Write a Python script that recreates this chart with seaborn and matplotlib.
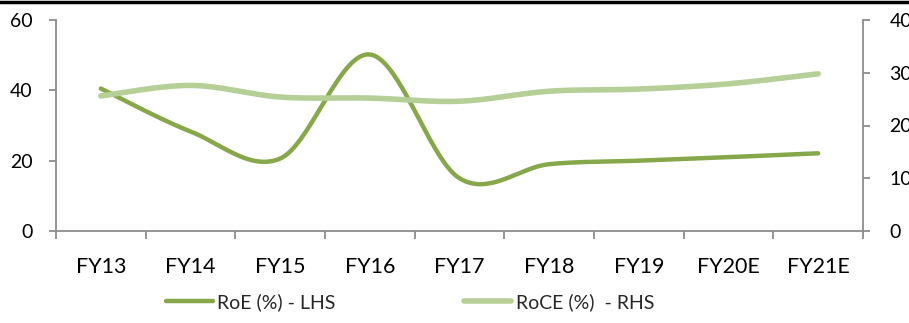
import numpy as np
import pandas as pd
import seaborn as sns
import matplotlib
matplotlib.use("Agg")
import matplotlib.pyplot as plt
from matplotlib.lines import Line2D

years = ["FY13", "FY14", "FY15", "FY16", "FY17", "FY18", "FY19", "FY20E", "FY21E"]
roe = [40.5, 28.3, 20.6, 50.2, 15.0, 19.0, 20.0, 21.0, 22.1]
roce = [25.6, 27.6, 25.4, 25.2, 24.6, 26.5, 26.9, 27.9, 29.8]
left_ticks = [0, 20, 40, 60]
right_ticks = [0, 10, 20, 30, 40]

DARK = "#86A84A"
LIGHT = "#B5CF96"


def smooth(xs, ys, n=40):
    """Catmull-Rom style smoothing through every point (Bezier with 1/6 tangents)."""
    xs = np.asarray(xs, float)
    ys = np.asarray(ys, float)
    P = np.column_stack([xs, ys])
    Pp = np.vstack([P[0], P, P[-1]])
    out = []
    t = np.linspace(0, 1, n)[:, None]
    for i in range(len(P) - 1):
        p0, p1, p2, p3 = Pp[i], Pp[i + 1], Pp[i + 2], Pp[i + 3]
        c1 = p1 + (p2 - p0) / 6
        c2 = p2 - (p3 - p1) / 6
        seg = ((1 - t) ** 3) * p1 + 3 * ((1 - t) ** 2) * t * c1 + 3 * (1 - t) * t ** 2 * c2 + t ** 3 * p2
        out.append(seg if i == 0 else seg[1:])
    out = np.vstack(out)
    return out[:, 0], out[:, 1]


sns.set_theme(style="white")
plt.rcParams["font.family"] = ["Lato", "DejaVu Sans"]

fig = plt.figure(figsize=(9.09, 3.23), dpi=100)
ax = fig.add_axes([56 / 909, 92 / 323, (863 - 56) / 909, (231 - 20) / 323])
ax2 = ax.twinx()

pos = np.arange(len(years))
sx, sy = smooth(pos, roe)
sns.lineplot(x=sx, y=sy, ax=ax, color=DARK, lw=3.2, sort=False,
             solid_capstyle="round", label="RoE (%) - LHS", legend=False)
rx, ry = smooth(pos, roce)
sns.lineplot(x=rx, y=ry, ax=ax2, color=LIGHT, lw=4.0, sort=False,
             solid_capstyle="round", label="RoCE (%)  - RHS", legend=False)

ax.set_xlim(-0.5, len(years) - 0.5)
ax.set_ylim(0, 60)
ax2.set_ylim(0, 40)
ax.set_yticks(left_ticks)
ax2.set_yticks(right_ticks)
ax.set_xticks(pos)
ax.set_xticklabels(years)
ax.set_xticks(np.arange(len(years) + 1) - 0.5, minor=True)

spine_c = "#8C8C8C"
for a in (ax, ax2):
    for s in a.spines.values():
        s.set_visible(False)
    a.grid(False)
ax.spines["left"].set_visible(True)
ax.spines["bottom"].set_visible(True)
ax2.spines["right"].set_visible(True)
for s in (ax.spines["left"], ax.spines["bottom"], ax2.spines["right"]):
    s.set_color(spine_c)
    s.set_linewidth(1.3)

ax.tick_params(axis="y", which="major", direction="out", length=5, width=1.3,
               color=spine_c, pad=12, labelsize=14, labelcolor="black", left=True)
ax2.tick_params(axis="y", which="major", direction="out", length=5, width=1.3,
                color=spine_c, pad=14, labelsize=14, labelcolor="black", right=True)
ax.tick_params(axis="x", which="major", length=0, pad=19, labelsize=15.5, labelcolor="black")
ax.tick_params(axis="x", which="minor", direction="out", length=6, width=1.3,
               color=spine_c, bottom=True)
ax.set_xlabel("")
ax.set_ylabel("")
ax2.set_ylabel("")

handles = [Line2D([], [], color=DARK, lw=3.2, solid_capstyle="round"),
           Line2D([], [], color=LIGHT, lw=4.0, solid_capstyle="round")]
fig.legend(handles, ["RoE (%) - LHS", "RoCE (%)  - RHS"], loc="center",
           bbox_to_anchor=(410 / 909, 1 - 302 / 323), ncol=2, frameon=False,
           fontsize=14, handlelength=2.4, handletextpad=0.25, columnspacing=6.6)

fig.add_artist(Line2D([0, 1], [1 - 2 / 323, 1 - 2 / 323], color="black", lw=2.5,
                      transform=fig.transFigure))

fig.savefig("out.png", dpi=100)
